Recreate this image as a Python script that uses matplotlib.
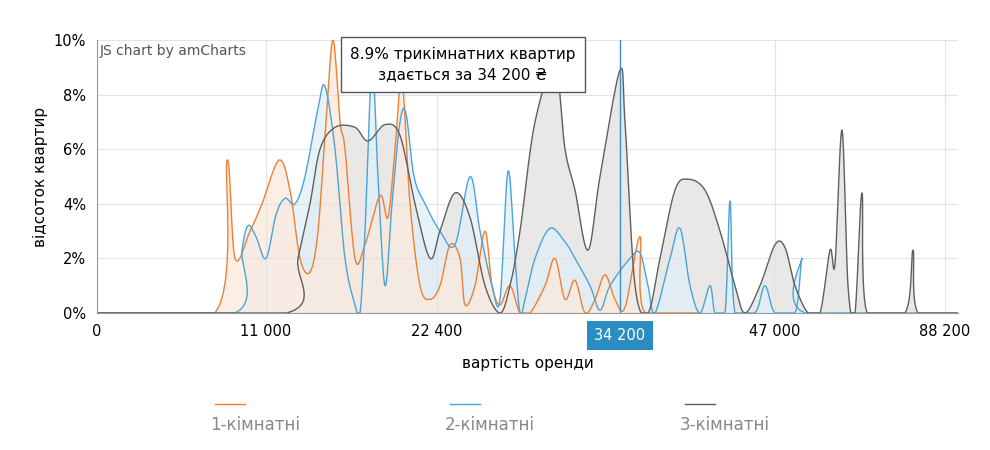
import matplotlib
matplotlib.use("Agg")
import matplotlib.pyplot as plt
from matplotlib.lines import Line2D
import numpy as np

# x positions are bin offsets along the (non-linear) price axis
tick_pos = [0, 169, 340, 523, 678, 848]
tick_labels = ["0", "11 000", "22 400", "", "47 000", "88 200"]
cursor_label = "34 200"

one_x = [0,118,130,138,153,165,182,193,203,213,221,229,236,243,248,258,268,283,291,298,305,313,323,333,343,353,363,368,378,388,395,403,413,423,433,448,458,468,478,488,498,508,518,528,543,548,603]
one_y = [0,0,5.6,2,3,4,5.6,4.5,2,1.5,3,7,10,7,6,2,2.5,4.3,3.5,6,8.5,4,1,0.5,1,2.5,2,0.3,1,3,1,0.3,1,0,0,1,2,0.5,1.2,0,0.5,1.4,0.5,0.2,2.8,0,0]

two_x = [0,138,145,151,159,169,179,188,198,208,221,228,238,248,258,263,268,275,281,288,295,303,309,317,328,343,358,373,383,395,403,411,418,423,428,438,453,468,478,493,503,513,533,543,551,558,573,583,593,603,613,618,628,633,638,658,668,678,698,705,708,861]
two_y = [0,0,2.3,3.2,2.8,2,3.6,4.2,4,5,7.5,8.3,6,2,0.3,0,3,9,5,1,4,7,7.3,5,4,3,2.5,5,3,1,0.5,5.2,2,0,0.5,2,3.1,2.6,2,1,0.1,1,2,2.2,1,0,2,3.1,1,0,1,0,0,4.1,0,0,1,0,0,2,0,0]

three_x = [0,190,201,213,223,238,258,271,288,303,318,333,343,358,373,388,403,413,423,438,458,468,478,491,503,523,528,538,551,563,578,591,608,623,638,648,663,678,688,698,711,723,733,738,745,751,758,765,770,808,816,821,861]
three_y = [0,0,2,4,6,6.8,6.8,6.3,6.9,6.5,4,2,3,4.4,3.5,1,0,1,3,7,9,6,4.5,2.3,5,8.9,7,1,0,2,4.5,4.9,4.5,3,1,0,1,2.5,2.4,1,0,0,2.3,1.8,6.7,1,0,4.4,0,0,2.3,0,0]

series = [("1-кімнатні", one_x, one_y, "#f07f34", "#fde9dc"),
          ("2-кімнатні", two_x, two_y, "#4aa4d8", "#dfeff8"),
          ("3-кімнатні", three_x, three_y, "#5f5f5f", "#e2e1de")]


def smooth(xs, ys, n=12):
    # Catmull-Rom rendering of the line between read points
    x = np.asarray(xs, float); y = np.asarray(ys, float)
    px = np.concatenate([[x[0]], x, [x[-1]]]); py = np.concatenate([[y[0]], y, [y[-1]]])
    ox, oy = [], []
    t = np.linspace(0, 1, n, endpoint=False)
    for i in range(1, len(px) - 2):
        for P, out in ((px, ox), (py, oy)):
            p0, p1, p2, p3 = P[i-1], P[i], P[i+1], P[i+2]
            out.extend(0.5 * (2*p1 + (-p0+p2)*t + (2*p0-5*p1+4*p2-p3)*t**2 + (-p0+3*p1-3*p2+p3)*t**3))
    ox.append(x[-1]); oy.append(y[-1])
    return np.array(ox), np.clip(np.array(oy), 0, None)


fig = plt.figure(figsize=(9.9, 4.5), dpi=100)
ax = fig.add_axes([97/990, 137/450, 861/990, 273/450])
for name, xs, ys, c, fc in series[::-1]:
    sx, sy = smooth(xs, ys)
    ax.fill_between(sx, sy, color=fc, alpha=0.75, lw=0)
for name, xs, ys, c, fc in series:
    sx, sy = smooth(xs, ys)
    ax.plot(sx, sy, color=c, lw=1)

ax.set_xlim(0, 861)
ax.set_ylim(0, 10)
ax.set_yticks(range(0, 11, 2))
ax.set_yticklabels([f"{v}%" for v in range(0, 11, 2)], fontsize=10.5)
ax.set_xticks(tick_pos)
ax.set_xticklabels(tick_labels, fontsize=10.5)
ax.tick_params(length=0, pad=8)
ax.grid(color="#e3e3e3", lw=0.8)
for s in ["top", "right"]:
    ax.spines[s].set_visible(False)
for s in ["left", "bottom"]:
    ax.spines[s].set_color("#999999")
ax.set_ylabel("відсоток квартир", fontsize=11)
ax.set_xlabel("вартість оренди", fontsize=11, labelpad=12)

ax.axvline(523, ymax=1, color="#3a8fc6", lw=1, clip_on=True)
ax.text(523, -0.55, cursor_label, ha="center", va="top", fontsize=10.5, color="white",
        bbox=dict(boxstyle="square,pad=0.5", fc="#2a8dc2", ec="none"), zorder=5)
ax.text(366, 9.1, "8.9% трикімнатних квартир\nздається за 34 200 ₴", ha="center", va="center",
        fontsize=11, linespacing=1.5,
        bbox=dict(boxstyle="square,pad=0.6", fc="white", ec="#555555", lw=1))
ax.text(3, 9.6, "JS chart by amCharts", fontsize=10, color="#555555", va="center")

for xc, (name, xs, ys, c, fc) in zip([255, 490, 725], series):
    fig.add_artist(Line2D([(xc-40)/990, (xc-10)/990], [1-404/450]*2, color=c, lw=1))
    fig.text(xc/990, 1-425/450, name, ha="center", va="center", fontsize=12, color="#888888")

fig.savefig("out.png", dpi=100)
